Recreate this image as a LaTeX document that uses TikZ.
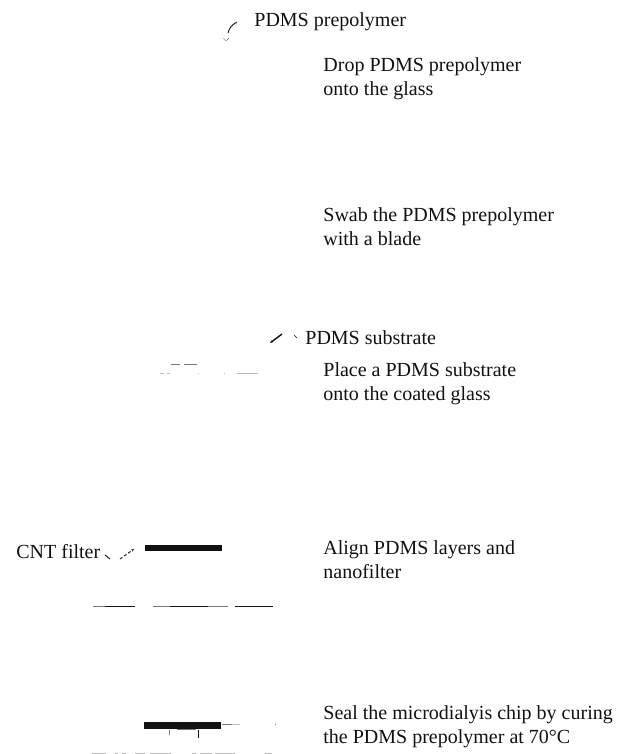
\documentclass[tikz,border=0pt]{standalone}
\usepackage{fontspec}
\setmainfont{Liberation Serif}
\usetikzlibrary{arrows.meta, positioning}
\definecolor{cink}{HTML}{111111}
\definecolor{cgrey}{HTML}{777777}
\definecolor{cpale}{HTML}{BBBBBB}
\tikzset{
  every picture/.style={line width=0.8pt},
  label/.style={font=\fontsize{20}{24}\selectfont, text=cink, align=left, anchor=west, inner sep=0pt},
  pointer/.style={draw=cink, line width=0.9pt},
  layer/.style={draw=none, fill=cink},
  film/.style={draw=cink, line width=1pt},
  faint/.style={draw=cpale, line width=1pt},
  mid/.style={draw=cgrey, line width=1pt},
}
\begin{document}
\begin{tikzpicture}[x=1pt, y=-1pt]
  \useasboundingbox (0,0) rectangle (623,754);
  \node[label] (prepolymer) at (254,22) {PDMS prepolymer};
  \node[label] (drop) at (323,79) {Drop PDMS prepolymer\\onto the glass};
  \node[label] (swab) at (323,227) {Swab the PDMS prepolymer\\with a blade};
  \node[label] (substrate) at (305,338) {PDMS substrate};
  \node[label] (place) at (323,384) {Place a PDMS substrate\\onto the coated glass};
  \node[label] (cnt) at (16,552) {CNT filter};
  \node[label] (align) at (323,560) {Align PDMS layers and\\nanofilter};
  \node[label] (seal) at (323,727) {Seal the microdialyis chip by curing\\the PDMS prepolymer at 70°C};

  \coordinate (dropstart) at (237,22);
  \coordinate (dropend) at (228,33);
  \draw[pointer] (dropstart) .. controls (231,25) and (229,29) .. (dropend);
  \coordinate (droptip) at (226,41);
  \draw[pointer, line width=0.5pt, densely dotted] (223,38) -- (droptip) -- (229,38);

  \coordinate (substart) at (282,334);
  \coordinate (subend) at (270,343);
  \draw[pointer, line width=1.4pt, {Stealth[length=3pt]}-] (subend) -- (substart);
  \draw[pointer, line width=0.5pt] (294,335) -- (297,338);
  \draw[mid] (171,364) -- (180,364) (184,364) -- (197,364);
  \foreach \x/\y in {160/164,167/170,198/199,224/225,237/258} \draw[faint] (\x,373) -- (\y,373);

  \coordinate (cntstart) at (105,555);
  \coordinate (cntend) at (110,559);
  \draw[pointer] (cntstart) -- (cntend);
  \coordinate (cntnext) at (120,559);
  \coordinate (cnttip) at (134,549);
  \draw[pointer, -{Stealth[length=3pt]}, densely dashed] (cntnext) -- (cnttip);
  \fill[layer] (145,545) rectangle (222,551);
  \draw[film] (105,606) -- (135,606) (170,606) -- (208,606) (235,606) -- (273,606);
  \draw[mid] (93,606) -- (105,606) (153,606) -- (170,606) (208,606) -- (228,606);

  \fill[layer] (144,722) rectangle (221,729);
  \draw[mid] (222,724) -- (232,724);
  \draw[faint] (232,724) -- (240,724);
  \draw[mid] (169,730) -- (169,735) (275,724) -- (276,724);
  \draw[film] (198,730) -- (198,738);
  \draw[mid] (177,729) -- (196,729);
  \foreach \x/\y in {92/106,115/118,122/126,135/145,150/171,192/196,200/212,215/235,265/272} \draw[faint] (\x,753) -- (\y,753);
\end{tikzpicture}
\end{document}
